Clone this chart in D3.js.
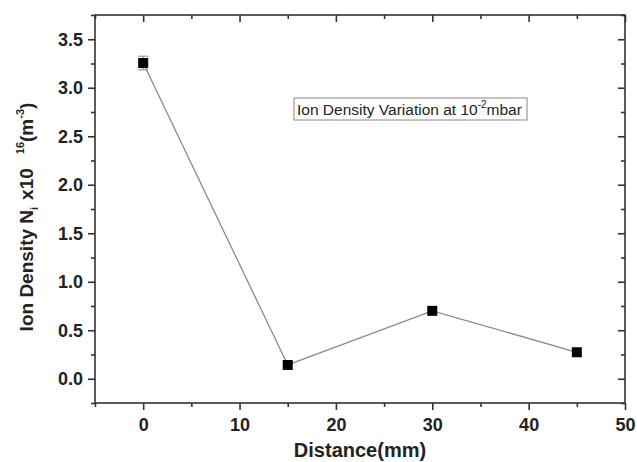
<!DOCTYPE html>
<html>
<head>
<meta charset="utf-8">
<script src="https://cdn.jsdelivr.net/npm/d3@7"></script>
<style>
  html, body { margin: 0; padding: 0; background: #fff; }
  svg { display: block; }
  text { font-family: "Liberation Sans", Arial, sans-serif; }
</style>
</head>
<body>
<svg id="chart" width="637" height="462"></svg>
<script>
const distances = [0, 15, 30, 45];
const ionDensity = [3.255, 0.142, 0.70, 0.273];
const ionError = [0.07, 0, 0, 0];
const xTicks = [0, 10, 20, 30, 40, 50];
const yTicks = [0.0, 0.5, 1.0, 1.5, 2.0, 2.5, 3.0, 3.5];
const xMinor = [-5, 5, 15, 25, 35, 45];
const yMinor = [-0.25, 0.25, 0.75, 1.25, 1.75, 2.25, 2.75, 3.25, 3.75];

(function () {
const svg = d3.select("#chart");
const pLeft = 95, pRight = 625, pTop = 15, pBottom = 403;
const x = d3.scaleLinear().domain([-5, 50]).range([pLeft, pRight]);
const y = d3.scaleLinear().domain([-0.25, 3.75]).range([pBottom, pTop]);
const axisColor = "#333";

svg.append("rect").attr("x", pLeft).attr("y", pTop)
  .attr("width", pRight - pLeft).attr("height", pBottom - pTop)
  .attr("fill", "none").attr("stroke", axisColor).attr("stroke-width", 1.6);

function styleAxis(g) {
  g.select(".domain").remove();
  g.selectAll(".tick line").attr("stroke", axisColor).attr("stroke-width", 1.6);
  g.selectAll("text").attr("fill", "#222").attr("font-weight", "bold").attr("font-size", 18);
}

svg.append("g").attr("transform", `translate(0,${pBottom})`)
  .call(d3.axisBottom(x).tickValues(xTicks).tickFormat(d3.format("d")).tickSize(7).tickPadding(8))
  .call(styleAxis);
svg.append("g").attr("transform", `translate(0,${pBottom})`)
  .call(d3.axisBottom(x).tickValues(xMinor).tickFormat("").tickSize(4))
  .call(styleAxis);
svg.append("g").attr("transform", `translate(0,${pTop})`)
  .call(d3.axisBottom(x).tickValues(xTicks).tickFormat("").tickSize(7))
  .call(styleAxis);
svg.append("g").attr("transform", `translate(0,${pTop})`)
  .call(d3.axisBottom(x).tickValues(xMinor).tickFormat("").tickSize(4))
  .call(styleAxis);
svg.append("g").attr("transform", `translate(${pLeft},0)`)
  .call(d3.axisLeft(y).tickValues(yTicks).tickFormat(d3.format(".1f")).tickSize(7).tickPadding(5))
  .call(styleAxis);
svg.append("g").attr("transform", `translate(${pLeft},0)`)
  .call(d3.axisLeft(y).tickValues(yMinor).tickFormat("").tickSize(4))
  .call(styleAxis);
svg.append("g").attr("transform", `translate(${pRight},0)`)
  .call(d3.axisLeft(y).tickValues(yTicks).tickFormat("").tickSize(7))
  .call(styleAxis);
svg.append("g").attr("transform", `translate(${pRight},0)`)
  .call(d3.axisLeft(y).tickValues(yMinor).tickFormat("").tickSize(4))
  .call(styleAxis);

const pts = distances.map((d, i) => ({ x: d, y: ionDensity[i], e: ionError[i] }));

svg.append("path").datum(pts)
  .attr("d", d3.line().x(d => x(d.x)).y(d => y(d.y)))
  .attr("fill", "none").attr("stroke", "#8a8a8a").attr("stroke-width", 1.3);

const eb = svg.append("g").attr("stroke", "#999").attr("stroke-width", 1.2);
pts.filter(d => d.e > 0).forEach(d => {
  eb.append("line").attr("x1", x(d.x)).attr("x2", x(d.x)).attr("y1", y(d.y - d.e)).attr("y2", y(d.y + d.e));
  eb.append("line").attr("x1", x(d.x) - 5).attr("x2", x(d.x) + 5).attr("y1", y(d.y + d.e)).attr("y2", y(d.y + d.e));
  eb.append("line").attr("x1", x(d.x) - 5).attr("x2", x(d.x) + 5).attr("y1", y(d.y - d.e)).attr("y2", y(d.y - d.e));
});

svg.append("g").selectAll("rect").data(pts).join("rect")
  .attr("x", d => x(d.x) - 5).attr("y", d => y(d.y) - 5)
  .attr("width", 10).attr("height", 10).attr("fill", "#000");

svg.append("text").attr("x", 360).attr("y", 457)
  .attr("text-anchor", "middle").attr("font-weight", "bold").attr("font-size", 20).attr("fill", "#222")
  .text("Distance(mm)");

const yt = svg.append("text").attr("transform", "translate(33,217) rotate(-90)")
  .attr("text-anchor", "middle").attr("font-weight", "bold").attr("font-size", 19).attr("fill", "#222");
yt.append("tspan").text("Ion Density N");
yt.append("tspan").attr("font-size", 11).attr("dy", 5).text("i");
yt.append("tspan").attr("dy", -5).attr("dx", 7).text("x10");
yt.append("tspan").attr("font-size", 11).attr("dy", -9).attr("dx", 14).text("16");
yt.append("tspan").attr("dy", 9).text("(m");
yt.append("tspan").attr("font-size", 11).attr("dy", -9).text("-3");
yt.append("tspan").attr("dy", 9).text(")");

svg.append("rect").attr("x", 294).attr("y", 98).attr("width", 233).attr("height", 22)
  .attr("fill", "#fff").attr("stroke", "#888").attr("stroke-width", 1);
const lt = svg.append("text").attr("x", 297).attr("y", 115)
  .attr("font-size", 15.5).attr("fill", "#222");
lt.append("tspan").text("Ion Density Variation at 10");
lt.append("tspan").attr("font-size", 10).attr("dy", -7).text("-2");
lt.append("tspan").attr("dy", 7).text("mbar");
})();
</script>
</body>
</html>
